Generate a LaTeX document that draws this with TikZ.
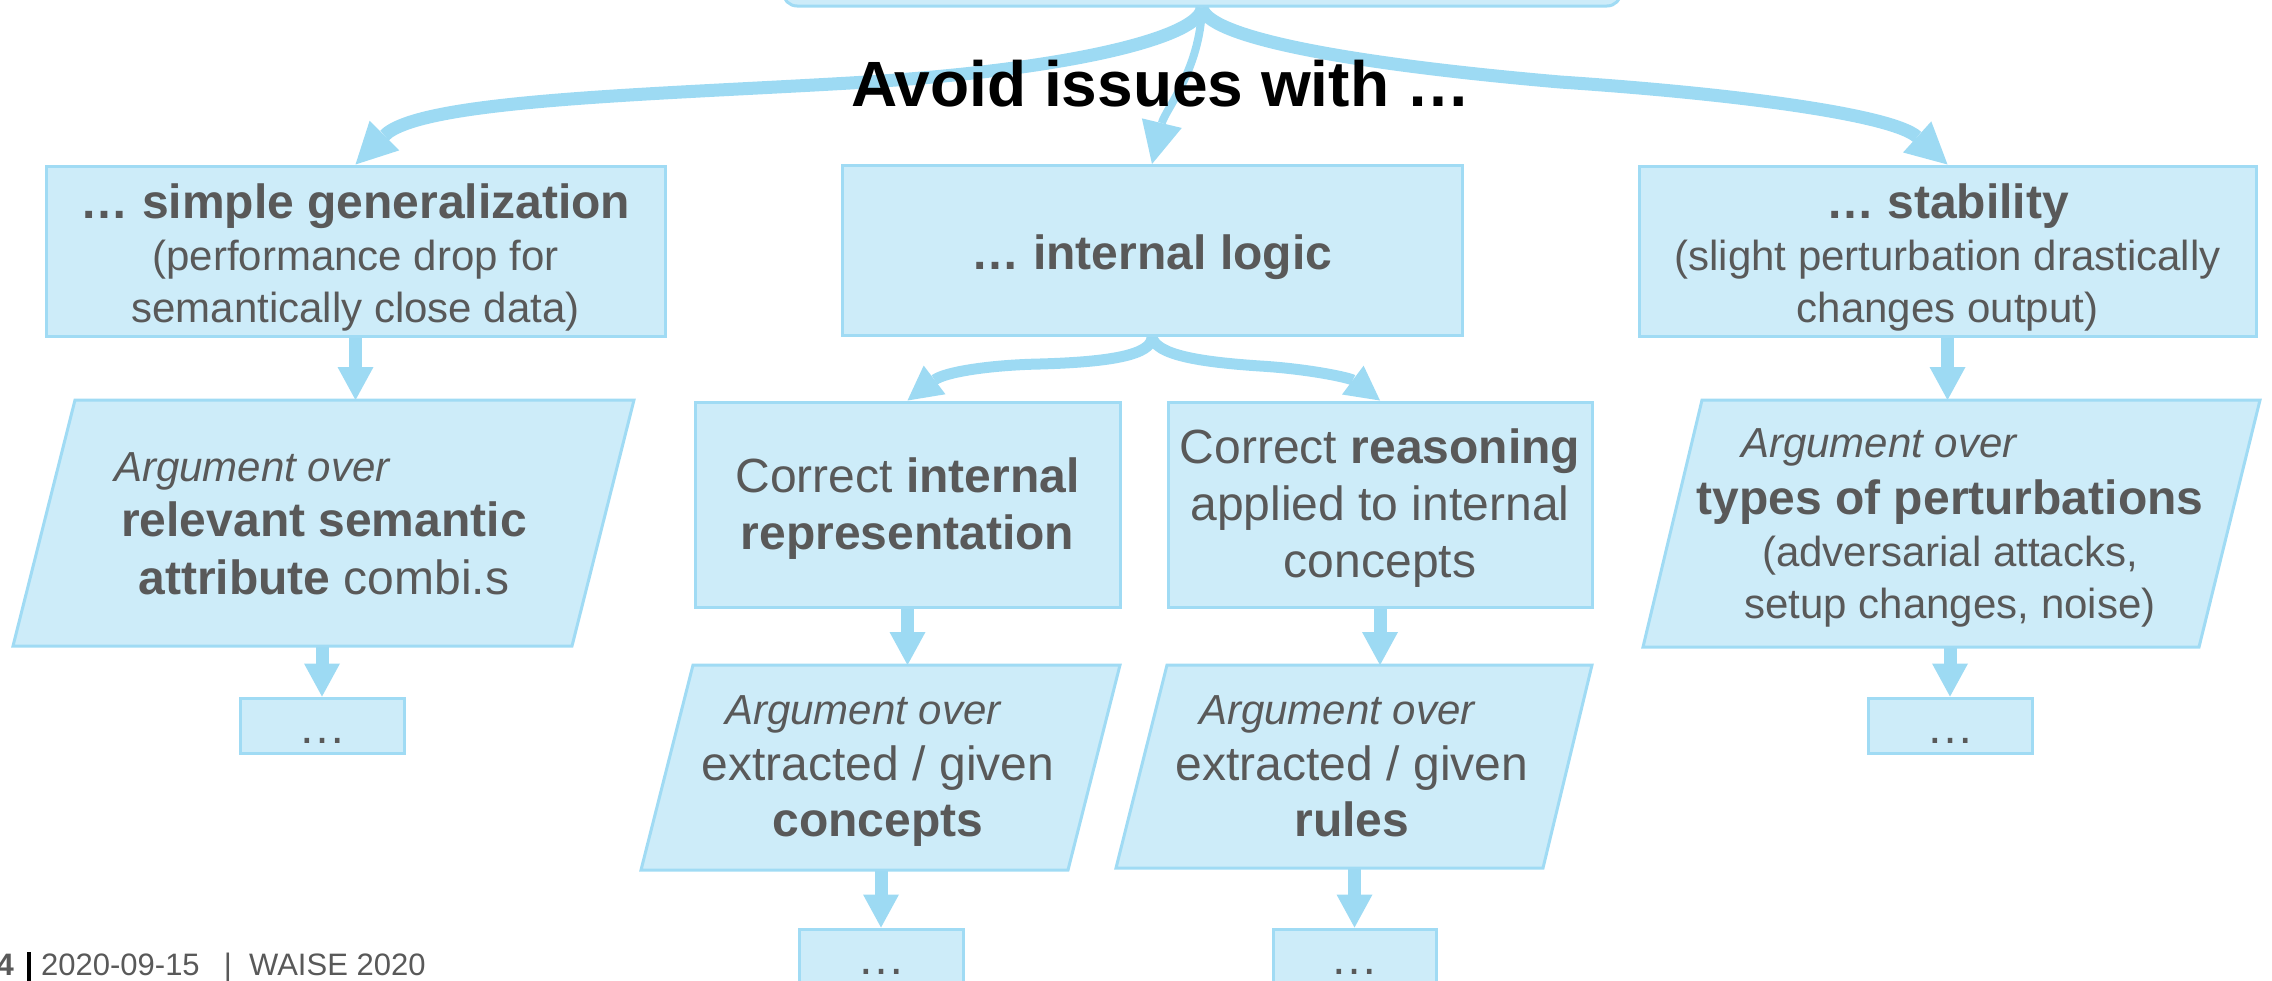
\documentclass[tikz,border=0pt]{standalone}
\usepackage{fontspec}
\setmainfont{Liberation Sans}
\usetikzlibrary{arrows.meta,backgrounds}
\definecolor{boxfill}{RGB}{205,236,249}
\definecolor{bord}{RGB}{160,219,244}
\definecolor{arr}{RGB}{157,218,243}
\definecolor{txtgray}{RGB}{89,89,89}
\tikzset{
  box/.style={draw=bord, fill=boxfill, line width=3pt, inner sep=0pt},
  txt/.style={text=txtgray, align=center, inner sep=0pt},
  para/.style={draw=bord, fill=boxfill, line width=3pt, line join=miter},
  vconn/.style={draw=arr, line width=13pt, -{Triangle[length=33pt,width=36pt,line width=0pt]}},
  lconn/.style={draw=arr, line width=11pt, -{Triangle[length=34pt,width=36pt,line width=0pt]}},
  tconn/.style={draw=arr, line width=13pt, -{Triangle[length=41pt,width=42pt,line width=0pt]}},
  mconn/.style={draw=arr, line width=8pt, -{Triangle[length=42pt,width=41pt,line width=0pt]}},
  foot/.style={inner sep=0pt, text=txtgray, font={\fontsize{31}{36}\selectfont}},
  dots/.style={txt, anchor=base, font={\fontsize{48}{52}\selectfont}},
}
\begin{document}
\begin{tikzpicture}[x=1pt, y=-1pt]
\useasboundingbox (0,0) rectangle (2272,980);

% top box
\node[box, rounded corners=14pt, minimum width=838pt, minimum height=80pt] (top) at (1202,-34) {};

% first level boxes
\node[box, minimum width=619pt, minimum height=170pt] (A) at (355.5,251) {};
\node[box, minimum width=620pt, minimum height=170pt] (B) at (1152,250.5) {};
\node[box, minimum width=617pt, minimum height=170pt] (C) at (1947.5,251) {};

\node[txt, font={\fontsize{42}{52}\selectfont}] (Atxt) at (355.5,257)
  {{\fontsize{48}{52}\selectfont\bfseries … simple generalization}\\(performance drop for\\semantically close data)};
\node[txt, font={\fontsize{48}{57}\selectfont\bfseries}] (Btxt) at (1152,257) {… internal logic};
\node[txt, font={\fontsize{42}{52}\selectfont}] (Ctxt) at (1947.5,257)
  {{\fontsize{48}{52}\selectfont\bfseries … stability}\\(slight perturbation drastically\\changes output)};

% second level boxes under B
\node[box, minimum width=425pt, minimum height=205pt] (D) at (907.5,504.5) {};
\node[box, minimum width=424pt, minimum height=205pt] (E) at (1380,504.5) {};
\node[txt, font={\fontsize{48}{57}\selectfont}] (Dtxt) at (907.5,509)
  {Correct \textbf{internal}\\\textbf{representation}};
\node[txt, font={\fontsize{48}{57}\selectfont}] (Etxt) at (1380,508.5)
  {Correct \textbf{reasoning}\\applied to internal\\concepts};

% parallelograms
\draw[para] (13,646) -- (75,400) -- (634,400) -- (572,646) -- cycle;
\draw[para] (641,870) -- (693,665) -- (1120,665) -- (1068,870) -- cycle;
\draw[para] (1116,868) -- (1167,665) -- (1592,665) -- (1543,868) -- cycle;
\draw[para] (1643,647) -- (1702,400) -- (2260,400) -- (2199,647) -- cycle;
\coordinate (Ft) at (355.5,400);
\coordinate (Fb) at (322,646);
\coordinate (Gt) at (907.5,665);
\coordinate (Gb) at (881,870);
\coordinate (Ht) at (1380,665);
\coordinate (Hb) at (1354.5,868);
\coordinate (It) at (1947.5,400);
\coordinate (Ib) at (1950,647);

\node[txt, font={\fontsize{42}{52}\selectfont}] (F) at (324,523.5)
  {{\itshape Argument over}\hspace*{144pt}\\[3pt]{\fontsize{48}{52}\selectfont\bfseries relevant semantic}\\[6pt]{\fontsize{48}{52}\selectfont\textbf{attribute} combi.s}};
\node[txt, font={\fontsize{48}{56}\selectfont}] (G) at (878,771.5)
  {{\fontsize{42}{56}\selectfont\itshape Argument over}\hspace*{30pt}\\extracted / given\\\textbf{concepts}};
\node[txt, font={\fontsize{48}{56}\selectfont}] (H) at (1352,766)
  {{\fontsize{42}{56}\selectfont\itshape Argument over}\hspace*{30pt}\\extracted / given\\\textbf{rules}};
\node[txt, font={\fontsize{42}{52}\selectfont}] (I) at (1950,527.5)
  {{\itshape Argument over}\hspace*{142pt}\\[5pt]{\fontsize{48}{52}\selectfont\bfseries types of perturbations}\\(adversarial attacks,\\setup changes, noise)};

% dots boxes
\node[box, minimum width=164pt, minimum height=55pt] (Ad) at (322,725.5) {};
\node[box, minimum width=164pt, minimum height=55pt] (Cd) at (1950,725.5) {};
\node[box, minimum width=164pt, minimum height=55pt] (Gd) at (881,956.5) {};
\node[box, minimum width=163pt, minimum height=55pt] (Hd) at (1354.5,956.5) {};
\node[dots] (Adt) at (322,743) {…};
\node[dots] (Cdt) at (1950,743) {…};
\node[dots] (Gdt) at (881,974) {…};
\node[dots] (Hdt) at (1354.5,974) {…};

% title text
\node[anchor=base, inner sep=0pt, text=black, font={\fontsize{64}{70}\selectfont\bfseries}] (avoid) at (1161,106) {Avoid issues with …};

% footer
\node[foot, anchor=base east, font={\fontsize{31}{36}\selectfont\bfseries}] (pg) at (14,975) {4};
\fill[black] (27,952) rectangle (31,985);
\node[foot, anchor=base west] (date) at (41,975) {2020-09-15};
\node[foot, anchor=base] (sep) at (228,975) {|};
\node[foot, anchor=base west] (conf) at (249,975) {WAISE 2020};

% connectors
\begin{pgfonlayer}{background}
\draw[tconn] (top.south) .. controls (1202,35) and (1080,70) .. (850,83)
  .. controls (643,95) and (420,100) .. (A.north);
\draw[tconn] (top.south) .. controls (1206,35) and (1330,62) .. (1560,82)
  .. controls (1740,94) and (1893,115) .. (C.north);
\draw[mconn] (top.south) .. controls (1200,70) and (1165,110) .. (B.north);
\draw[lconn] (B.south) .. controls (1152,355) and (1110,362) .. (1040,364)
  .. controls (990,365) and (945,372) .. (D.north);
\draw[lconn] (B.south) .. controls (1156,355) and (1200,362) .. (1260,366)
  .. controls (1310,369) and (1350,378) .. (E.north);
\draw[vconn] (A.south) -- (Ft);
\draw[vconn] (Fb) -- (Ad.north);
\draw[vconn] (C.south) -- (It);
\draw[vconn] (Ib) -- (Cd.north);
\draw[vconn] (D.south) -- (Gt);
\draw[vconn] (E.south) -- (Ht);
\draw[vconn] (Gb) -- (Gd.north);
\draw[vconn] (Hb) -- (Hd.north);
\end{pgfonlayer}
\end{tikzpicture}
\end{document}
